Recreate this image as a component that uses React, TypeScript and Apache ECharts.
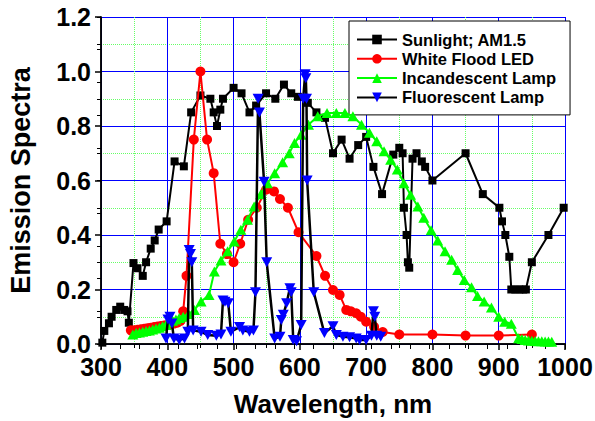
import React, { useEffect, useRef } from "react";
import * as echarts from "echarts";

const FONT = "'Liberation Sans', Arial, sans-serif";

// [wavelength nm, relative emission]
const sunlight: [number, number][] = [
  [302, 0.005], [305, 0.048], [312, 0.076], [316, 0.1], [323, 0.125], [329, 0.137],
  [335, 0.125], [340, 0.12], [342, 0.078], [349, 0.297], [355, 0.278], [363, 0.25],
  [368, 0.3], [375, 0.35], [381, 0.38], [387, 0.42], [399, 0.45], [411, 0.67],
  [425, 0.652], [436, 0.85], [450, 0.912], [465, 0.9], [470, 0.85], [475, 0.8],
  [480, 0.86], [484, 0.9], [500, 0.94], [512, 0.92], [524, 0.85], [534, 0.875],
  [549, 0.92], [563, 0.9], [576, 0.952], [587, 0.92], [597, 0.907], [612, 0.885],
  [625, 0.85], [638, 0.83], [650, 0.7], [663, 0.75], [675, 0.68], [688, 0.73],
  [700, 0.76], [711, 0.65], [724, 0.55], [741, 0.695], [750, 0.72], [755, 0.7],
  [757, 0.5], [761, 0.4], [763, 0.3], [765, 0.28], [770, 0.68], [776, 0.7],
  [784, 0.67], [789, 0.65], [800, 0.6], [850, 0.7], [876, 0.55], [901, 0.5],
  [905, 0.45], [910, 0.4], [916, 0.32], [919, 0.2], [925, 0.2], [931, 0.2],
  [937, 0.2], [941, 0.2], [950, 0.3], [975, 0.4], [998, 0.5],
];

const whiteLed: [number, number][] = [
  [345, 0.05], [350, 0.05], [355, 0.052], [360, 0.054], [365, 0.056], [370, 0.058],
  [375, 0.06], [380, 0.062], [385, 0.064], [390, 0.066], [395, 0.068], [400, 0.07],
  [405, 0.072], [410, 0.075], [415, 0.078], [420, 0.085], [424, 0.12], [429, 0.25],
  [440, 0.75], [450, 1.0], [460, 0.75], [470, 0.627], [480, 0.368], [490, 0.33],
  [500, 0.3], [510, 0.368], [522, 0.456], [535, 0.5], [549, 0.566], [561, 0.56],
  [570, 0.532], [582, 0.5], [598, 0.41], [625, 0.323], [638, 0.25], [650, 0.198],
  [660, 0.18], [670, 0.125], [677, 0.12], [685, 0.113], [692, 0.1], [700, 0.082],
  [712, 0.063], [725, 0.044], [750, 0.035], [800, 0.035], [850, 0.031], [900, 0.031],
  [950, 0.035],
];

const incandescent: [number, number][] = [
  [348, 0.035], [353, 0.04], [358, 0.042], [363, 0.045], [368, 0.048], [373, 0.05],
  [378, 0.053], [383, 0.057], [388, 0.06], [393, 0.065], [398, 0.07], [403, 0.08],
  [408, 0.085], [413, 0.09], [418, 0.095], [424, 0.1], [432, 0.11], [441, 0.125],
  [451, 0.156], [463, 0.18], [471, 0.266], [481, 0.306], [491, 0.34], [501, 0.376],
  [511, 0.419], [521, 0.456], [531, 0.505], [541, 0.55], [551, 0.59], [562, 0.627],
  [574, 0.667], [584, 0.7], [592, 0.738], [602, 0.768], [613, 0.805], [627, 0.836],
  [641, 0.848], [655, 0.848], [668, 0.848], [680, 0.836], [693, 0.805], [705, 0.775],
  [716, 0.744], [727, 0.707], [737, 0.676], [747, 0.64], [757, 0.59], [767, 0.548],
  [778, 0.505], [787, 0.463], [798, 0.417], [808, 0.38], [819, 0.34], [829, 0.309],
  [838, 0.272], [848, 0.235], [859, 0.208], [868, 0.176], [878, 0.156], [889, 0.134],
  [900, 0.1], [909, 0.082], [919, 0.074], [930, 0.021], [935, 0.018], [940, 0.015],
  [945, 0.013], [950, 0.012], [955, 0.011], [960, 0.01], [965, 0.01], [970, 0.009],
  [975, 0.009], [980, 0.008],
];

const fluorescent: [number, number][] = [
  [398, 0.02], [401, 0.09], [404, 0.1], [407, 0.075], [410, 0.02], [418, 0.015],
  [426, 0.02], [431, 0.045], [433, 0.345], [435, 0.33], [437, 0.3], [439, 0.05],
  [451, 0.045], [461, 0.033], [474, 0.03], [481, 0.035], [484, 0.16], [487, 0.155],
  [492, 0.15], [496, 0.045], [509, 0.062], [514, 0.05], [524, 0.045], [530, 0.05],
  [533, 0.19], [537, 0.9], [539, 0.85], [546, 0.595], [550, 0.3], [562, 0.02],
  [570, 0.027], [572, 0.088], [575, 0.107], [580, 0.15], [585, 0.205], [587, 0.19],
  [590, 0.015], [595, 0.01], [602, 0.07], [605, 0.9], [608, 0.99], [609, 0.975],
  [610, 0.9], [611, 0.6], [621, 0.19], [637, 0.04], [650, 0.065], [655, 0.033],
  [665, 0.027], [675, 0.025], [685, 0.02], [690, 0.015], [700, 0.015], [708, 0.03],
  [711, 0.12], [713, 0.1], [716, 0.03], [722, 0.027],
];

const seriesNames = [
  "Sunlight; AM1.5",
  "White Flood LED",
  "Incandescent Lamp",
  "Fluorescent Lamp",
];

const TRIANGLE_DOWN = "path://M0,0 L10,0 L5,9 Z";

export default function App() {
  const ref = useRef<HTMLDivElement>(null);

  useEffect(() => {
    if (!ref.current) return;
    const chart = echarts.init(ref.current, null, { renderer: "svg" });
    const bold = { fontFamily: FONT, fontWeight: "bold" as const, color: "#000" };

    chart.setOption({
      animation: false,
      backgroundColor: "#fff",
      grid: {
        left: 101,
        right: 30,
        top: 17,
        bottom: 77,
        containLabel: false,
        outerBoundsMode: "none",
      },
      legend: {
        left: 349,
        top: 21,
        orient: "vertical",
        data: seriesNames,
        backgroundColor: "#fff",
        borderColor: "#000",
        borderWidth: 1,
        padding: [10, 14, 9, 7],
        itemGap: 2.3,
        itemWidth: 40,
        itemHeight: 12,
        textStyle: { ...bold, fontSize: 16.5, lineHeight: 16 },
      },
      xAxis: [
        {
          type: "value",
          min: 300,
          max: 1000,
          interval: 100,
          position: "bottom",
          axisLine: { show: true, onZero: false, lineStyle: { color: "#000", width: 1.5 } },
          axisTick: { show: true, inside: false, length: 6, lineStyle: { color: "#000", width: 1.5 } },
          minorTick: { show: true, splitNumber: 2, length: 4, lineStyle: { color: "#000", width: 1 } },
          splitLine: { show: true, lineStyle: { color: "#0000ff", width: 1 } },
          minorSplitLine: { show: true, lineStyle: { color: "#66ff66", type: "dotted", width: 1 } },
          axisLabel: { ...bold, fontSize: 25, margin: 10, formatter: (v: number) => String(v) },
          name: "Wavelength, nm",
          nameLocation: "middle",
          nameGap: 47,
          nameTextStyle: { ...bold, fontSize: 26 },
        },
        {
          type: "value",
          min: 0,
          max: 24,
          interval: 1,
          position: "top",
          axisLine: { show: true, lineStyle: { color: "#000", width: 1.5 } },
          axisTick: { show: true, inside: true, length: 5, lineStyle: { color: "#000", width: 1 } },
          axisLabel: { show: false },
          splitLine: { show: false },
        },
      ],
      yAxis: [
        {
          type: "value",
          min: 0,
          max: 1.2,
          interval: 0.2,
          position: "left",
          axisLine: { show: true, onZero: false, lineStyle: { color: "#000", width: 1.5 } },
          axisTick: { show: true, inside: false, length: 6, lineStyle: { color: "#000", width: 1.5 } },
          minorTick: { show: true, splitNumber: 2, length: 4, lineStyle: { color: "#000", width: 1 } },
          splitLine: { show: true, lineStyle: { color: "#0000ff", width: 1 } },
          minorSplitLine: { show: true, lineStyle: { color: "#66ff66", type: "dotted", width: 1 } },
          axisLabel: {
            ...bold,
            fontSize: 25,
            margin: 10,
            formatter: (v: number) => v.toFixed(1),
          },
          name: "Emission Spectra",
          nameLocation: "middle",
          nameGap: 67,
          nameRotate: 90,
          nameTextStyle: { ...bold, fontSize: 27 },
        },
        {
          type: "value",
          min: 0,
          max: 10,
          interval: 1,
          position: "right",
          axisLine: { show: true, lineStyle: { color: "#000", width: 1.5 } },
          axisTick: { show: true, inside: true, length: 4, lineStyle: { color: "#000", width: 1 } },
          axisLabel: { show: false },
          splitLine: { show: false },
        },
      ],
      series: [
        {
          name: seriesNames[0],
          type: "line",
          data: sunlight,
          symbol: "rect",
          symbolSize: 8,
          lineStyle: { color: "#000", width: 2 },
          itemStyle: { color: "#000" },
          z: 2,
        },
        {
          name: seriesNames[1],
          type: "line",
          data: whiteLed,
          symbol: "circle",
          symbolSize: 10,
          lineStyle: { color: "#ff0000", width: 2 },
          itemStyle: { color: "#ff0000" },
          z: 3,
        },
        {
          name: seriesNames[2],
          type: "line",
          data: incandescent,
          symbol: "triangle",
          symbolSize: [11, 10],
          lineStyle: { color: "#00ff00", width: 2 },
          itemStyle: { color: "#00ff00" },
          z: 4,
        },
        {
          name: seriesNames[3],
          type: "line",
          data: fluorescent,
          symbol: TRIANGLE_DOWN,
          symbolSize: [11, 10],
          lineStyle: { color: "#000", width: 2.5 },
          itemStyle: { color: "#0000ff" },
          z: 5,
        },
      ],
    });

    return () => chart.dispose();
  }, []);

  return (
    <div
      ref={ref}
      style={{ position: "fixed", left: 0, top: 0, width: 595, height: 421 }}
    />
  );
}
